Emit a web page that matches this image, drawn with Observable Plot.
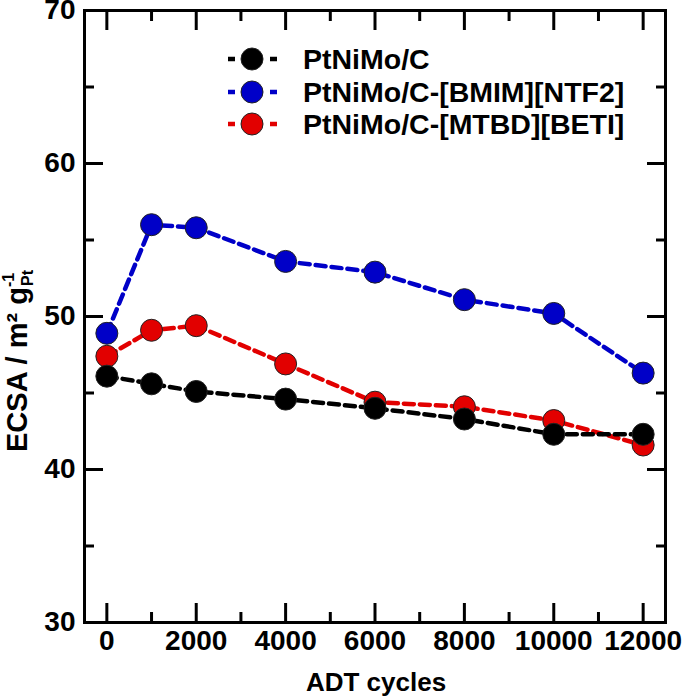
<!DOCTYPE html>
<html><head><meta charset="utf-8">
<script src="https://cdn.jsdelivr.net/npm/d3@7"></script>
<script src="https://cdn.jsdelivr.net/npm/@observablehq/plot@0.6"></script>
<style>
body{margin:0;background:#fff;}
#wrap{position:relative;width:682px;height:700px;}
</style></head><body><div id="wrap"></div>
<script>
const cycles = [0, 1000, 2000, 4000, 6000, 8000, 10000, 12000];
const seriesNames = ["PtNiMo/C", "PtNiMo/C-[BMIM][NTF2]", "PtNiMo/C-[MTBD][BETI]"];
const ecsaPtNiMoC = [46.1, 45.6, 45.1, 44.6, 44.0, 43.3, 42.3, 42.3];
const ecsaBMIM = [48.9, 56.0, 55.8, 53.6, 52.9, 51.1, 50.2, 46.3];
const ecsaMTBD = [47.4, 49.1, 49.4, 46.9, 44.4, 44.1, 43.2, 41.6];
const seriesColors = ["#000000", "#0000c8", "#e20000"];
const xMajorTicks = [0, 2000, 4000, 6000, 8000, 10000, 12000];
const xMinorTicks = [1000, 3000, 5000, 7000, 9000, 11000];
const yMajorTicks = [30, 40, 50, 60, 70];
const yMinorTicks = [35, 45, 55, 65];

const seriesValues = [ecsaPtNiMoC, ecsaBMIM, ecsaMTBD];
const rows = [];
seriesNames.forEach((s, i) => cycles.forEach((c, j) => rows.push({series: s, x: c, y: seriesValues[i][j]})));
const drawOrder = [1, 2, 0];

const lineMarks = [];
for (const i of drawOrder) {
  const d = rows.filter(r => r.series === seriesNames[i]);
  lineMarks.push(Plot.line(d, {x: "x", y: "y", stroke: seriesColors[i], strokeWidth: 4.5, strokeDasharray: "10,6"}));
  lineMarks.push(Plot.dot(d, {x: "x", y: "y", r: 11, fill: seriesColors[i], stroke: "#222", strokeWidth: 1}));
}
const blank = () => "";
const fontFam = "'Liberation Sans',Arial,Helvetica,sans-serif";
const tickFont = {fontSize: 28, fontWeight: "bold", fontFamily: fontFam};

const chart = Plot.plot({
  width: 682, height: 700,
  marginLeft: 84, marginRight: 17, marginTop: 10, marginBottom: 78,
  x: {domain: [-500, 12500]},
  y: {domain: [30, 70]},
  style: {background: "#fff", color: "#000"},
  marks: [
    Plot.axisX({ticks: xMajorTicks, tickSize: 0, tickPadding: 8, tickFormat: d => String(d), label: null, ...tickFont}),
    Plot.axisX({ticks: xMajorTicks, tickSize: -19, tickFormat: blank, label: null, strokeWidth: 3}),
    Plot.axisX({ticks: xMinorTicks, tickSize: -10, tickFormat: blank, label: null, strokeWidth: 3}),
    Plot.axisX({anchor: "top", ticks: xMajorTicks, tickSize: -19, tickFormat: blank, label: null, strokeWidth: 3}),
    Plot.axisX({anchor: "top", ticks: xMinorTicks, tickSize: -10, tickFormat: blank, label: null, strokeWidth: 3}),
    Plot.axisY({ticks: yMajorTicks, tickSize: 0, tickPadding: 9, tickFormat: d => String(d), label: null, ...tickFont}),
    Plot.axisY({ticks: yMajorTicks, tickSize: -19, tickFormat: blank, label: null, strokeWidth: 3}),
    Plot.axisY({ticks: yMinorTicks, tickSize: -10, tickFormat: blank, label: null, strokeWidth: 3}),
    Plot.axisY({anchor: "right", ticks: yMajorTicks, tickSize: -19, tickFormat: blank, label: null, strokeWidth: 3}),
    Plot.axisY({anchor: "right", ticks: yMinorTicks, tickSize: -10, tickFormat: blank, label: null, strokeWidth: 3}),
    ...lineMarks,
    Plot.frame({stroke: "#000", strokeWidth: 3})
  ]
});

const svg = d3.select(chart);
svg.append("text")
  .attr("x", 376).attr("y", 691)
  .attr("text-anchor", "middle")
  .attr("font-family", fontFam).attr("font-weight", "bold").attr("font-size", 26)
  .text("ADT cycles");
const yl = svg.append("text")
  .attr("transform", "translate(27,452) rotate(-90)")
  .attr("text-anchor", "start")
  .attr("font-family", fontFam).attr("font-weight", "bold").attr("font-size", 29);
yl.append("tspan").text("ECSA / m\u00B2 g");
yl.append("tspan").attr("font-size", 16).attr("dy", -13).text("-1");
yl.append("tspan").attr("font-size", 16).attr("dx", -13).attr("dy", 19).text("Pt");

// legend
const legRowY = [59, 92, 124];
const leg = svg.append("g");
seriesNames.forEach((name, i) => {
  const g = leg.append("g").attr("transform", `translate(0,${legRowY[i]})`);
  g.append("line").attr("x1", 228).attr("x2", 277).attr("y1", 0).attr("y2", 0)
    .attr("stroke", seriesColors[i]).attr("stroke-width", 4.5).attr("stroke-dasharray", "7,7");
  g.append("circle").attr("cx", 252).attr("cy", 0).attr("r", 11)
    .attr("fill", seriesColors[i]).attr("stroke", "#222");
  g.append("text").attr("x", 303).attr("y", 10)
    .attr("text-anchor", "start")
    .attr("font-family", fontFam).attr("font-weight", "bold").attr("font-size", 28.5)
    .text(name);
});

document.getElementById("wrap").appendChild(chart);
</script></body></html>
